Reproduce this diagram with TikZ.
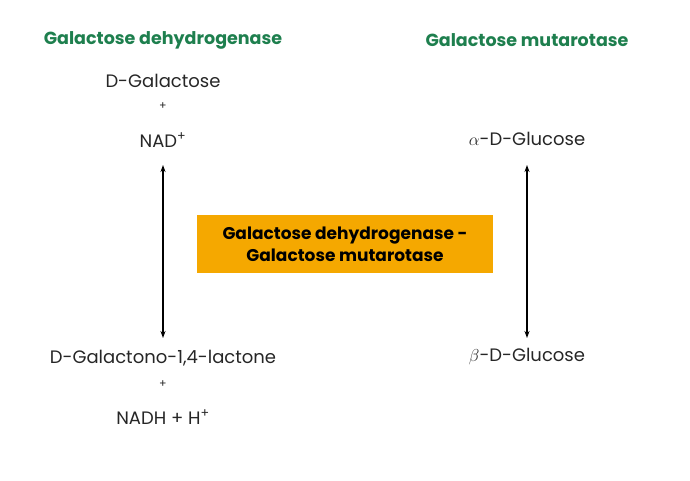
\documentclass[tikz,border=0pt]{standalone}
\usepackage{fontspec}
\setmainfont{Poppins}
\usetikzlibrary{arrows.meta}
\definecolor{gr}{HTML}{1E7F4E}
\definecolor{org}{HTML}{F5A800}
\begin{document}
\begin{tikzpicture}[x=1pt,y=-1pt,
 t/.style={font=\fontsize{18}{21}\selectfont,text=black!85,inner sep=1pt},
 pl/.style={font=\fontsize{11}{12}\selectfont,text=black!85},
 h/.style={font=\fontsize{17.5}{20}\selectfont\bfseries,text=gr},
 ar/.style={{Stealth[length=7pt,width=5pt]}-{Stealth[length=7pt,width=5pt]},line width=1.2pt}]
\useasboundingbox (0,0) rectangle (690,480);
\node[h] (h1) at (163,40) {Galactose dehydrogenase};
\node[h] (h2) at (527,40) {Galactose mutarotase};
\node[t] (a) at (163,81) {D-Galactose};
\node[pl] (p1) at (163,106) {+};
\node[t] (b) at (163,140) {NAD\textsuperscript{+}};
\node[t] (c) at (163,358) {D-Galactono-1,4-lactone};
\node[pl] (p2) at (163,384) {+};
\node[t] (d) at (163,417) {NADH + H\textsuperscript{+}};
\node[t] (e) at (527,139) {$\alpha$-D-Glucose};
\node[t] (f) at (527,357) {$\beta$-D-Glucose};
\coordinate (u1) at (163,165); \coordinate (l1) at (163,338);
\coordinate (u2) at (527,165); \coordinate (l2) at (527,338);
\draw[ar] (u1) -- (l1);
\draw[ar] (u2) -- (l2);
\node[fill=org,minimum width=296,minimum height=58,align=center,
 font=\fontsize{17}{22}\selectfont\bfseries] (box) at (345,244)
 {Galactose dehydrogenase -\\Galactose mutarotase};
\end{tikzpicture}
\end{document}
